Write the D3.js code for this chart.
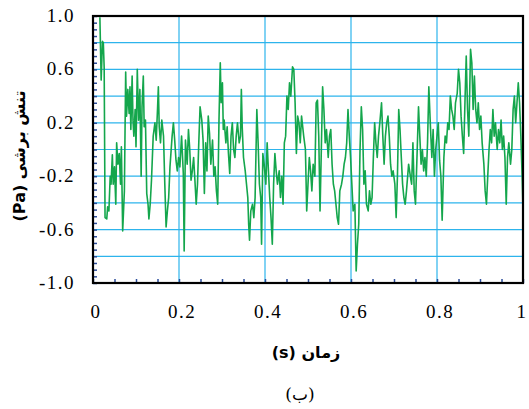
<!DOCTYPE html>
<html>
<head>
<meta charset="utf-8">
<script src="https://cdn.jsdelivr.net/npm/d3@7"></script>
<style>
	body { margin: 0; background: #fff; }
	svg { display: block; }
	.num { font-family: "Liberation Serif", "Times New Roman", "DejaVu Serif", serif; font-size: 19px; letter-spacing: 1.5px; }
</style>
</head>
<body>
<div id="chart"></div>
<script>
// shear stress signal (t in s, value in Pa)
var time = [
	0.016, 0.019, 0.022, 0.024, 0.026, 0.028, 0.032, 0.034, 0.037, 0.040,
	0.042, 0.045, 0.047, 0.050, 0.053, 0.055, 0.058, 0.061, 0.064, 0.066,
	0.069, 0.073, 0.076, 0.078, 0.081, 0.084, 0.086, 0.088, 0.091, 0.093,
	0.095, 0.098, 0.100, 0.103, 0.106, 0.109, 0.112, 0.114, 0.117, 0.119,
	0.122, 0.125, 0.128, 0.130, 0.133, 0.136, 0.140, 0.144, 0.147, 0.150,
	0.152, 0.154, 0.157, 0.160, 0.164, 0.167, 0.170, 0.173, 0.176, 0.179,
	0.184, 0.187, 0.190, 0.193, 0.196, 0.199, 0.202, 0.206, 0.210, 0.212,
	0.215, 0.219, 0.222, 0.225, 0.228, 0.231, 0.234, 0.237, 0.240, 0.243,
	0.246,
	0.249, 0.253, 0.256, 0.259, 0.262, 0.265, 0.268, 0.271, 0.274, 0.278,
	0.281, 0.284, 0.287, 0.290, 0.293, 0.296, 0.298, 0.301, 0.303, 0.305,
	0.309, 0.312, 0.315, 0.318, 0.321, 0.324, 0.327, 0.330, 0.333, 0.336,
	0.340, 0.343, 0.345, 0.347, 0.350, 0.354, 0.357, 0.360, 0.362, 0.364,
	0.367, 0.371, 0.374, 0.377, 0.381, 0.384, 0.387, 0.390, 0.392, 0.395,
	0.398, 0.402, 0.405, 0.408, 0.411, 0.414, 0.417, 0.420, 0.423, 0.426,
	0.429, 0.433, 0.436, 0.439, 0.442, 0.445, 0.448, 0.451, 0.454, 0.457,
	0.460, 0.464, 0.467, 0.470, 0.473, 0.476, 0.479, 0.482, 0.485, 0.490,
	0.494, 0.497, 0.500, 0.503, 0.506, 0.509, 0.512, 0.516, 0.519, 0.522,
	0.525, 0.528, 0.531, 0.534, 0.537, 0.540, 0.543, 0.547, 0.550, 0.553,
	0.556, 0.559, 0.562, 0.565, 0.568, 0.571, 0.574, 0.578, 0.581, 0.584,
	0.587, 0.590, 0.593, 0.596, 0.599, 0.602, 0.605, 0.609, 0.612, 0.615,
	0.618, 0.621, 0.624, 0.627, 0.630, 0.633, 0.636, 0.640, 0.643, 0.646,
	0.649, 0.652, 0.655, 0.658, 0.661, 0.664, 0.667, 0.671, 0.674, 0.677,
	0.680, 0.683, 0.686, 0.689, 0.692, 0.695, 0.698, 0.702, 0.705, 0.708,
	0.711, 0.714, 0.717, 0.720, 0.723, 0.726, 0.729, 0.734,
	0.738, 0.741, 0.744, 0.747, 0.750, 0.754, 0.757, 0.760, 0.763, 0.766,
	0.769, 0.772, 0.775, 0.778, 0.781, 0.785, 0.788, 0.791, 0.794, 0.797,
	0.800, 0.803, 0.806, 0.809, 0.812, 0.816, 0.819, 0.822, 0.825, 0.828,
	0.831, 0.834, 0.837, 0.840, 0.843, 0.847, 0.850, 0.853, 0.856, 0.859,
	0.862, 0.865, 0.868, 0.871, 0.874, 0.878, 0.881, 0.884, 0.887, 0.890,
	0.893, 0.896, 0.899, 0.902, 0.905, 0.909, 0.912, 0.915, 0.918, 0.921,
	0.924, 0.927, 0.930, 0.933, 0.936, 0.940, 0.943, 0.946, 0.949, 0.952,
	0.955, 0.958, 0.961, 0.964, 0.967, 0.971, 0.974, 0.977, 0.980, 0.983,
	0.986, 0.989, 0.992, 0.995, 0.998, 1.000
];
var stress = [
	0.99, 0.52, 0.81, 0.80, 0.61, -0.51, -0.52, -0.43, -0.46, -0.20,
	-0.26, -0.04, -0.26, -0.13, -0.41, 0.05, -0.11, -0.03, -0.26, 0.02,
	-0.61, -0.31, 0.58, 0.25, 0.45, 0.27, 0.47, 0.15, 0.55, 0.22,
	0.10, 0.30, 0.02, 0.60, 0.22, 0.45, -0.20, 0.32, 0.55, 0.17,
	0.22, -0.33, -0.41, -0.52, -0.41, -0.23, 0.10, 0.20, 0.07, 0.30,
	0.47, 0.17, 0.05, 0.22, 0.10, -0.26, -0.58, -0.46, -0.36, -0.13,
	0.10, 0.20, 0.07, -0.08, -0.16, -0.06, -0.13, 0.10, -0.18, -0.76,
	0.07, -0.11, 0.15, 0.00, -0.23, -0.16, -0.06, -0.23, -0.41, -0.26,
	0.05,
	0.32, 0.22, 0.07, -0.33, 0.05, -0.16, 0.25, 0.12, -0.11, 0.07,
	-0.20, -0.13, -0.31, -0.41, 0.22, 0.65, 0.35, 0.50, 0.15, 0.22,
	0.05, 0.17, -0.03, -0.18, 0.10, 0.20, 0.00, -0.06, 0.10, 0.20,
	0.05, 0.10, 0.45, 0.17, -0.06, -0.16, -0.26, -0.36, -0.56, -0.68,
	-0.46, -0.41, -0.51, -0.36, 0.30, 0.05, -0.26, -0.36, -0.71, -0.03,
	-0.11, -0.26, 0.05, -0.16, -0.36, -0.51, -0.71, -0.26, -0.03, -0.16,
	-0.26, -0.16, -0.36, -0.20, -0.41, 0.05, 0.10, 0.40, 0.30, 0.50,
	0.40, 0.62, 0.60, 0.35, -0.03, 0.25, 0.20, 0.05, 0.25, 0.10,
	0.00, -0.46, -0.26, -0.06, -0.16, -0.31, -0.11, -0.20, 0.35, 0.37,
	0.10, -0.46, 0.00, 0.47, 0.30, 0.05, 0.15, -0.06, 0.10, 0.15,
	-0.11, -0.26, -0.31, -0.41, -0.51, -0.56, -0.31, -0.26, -0.20, -0.11,
	-0.06, 0.05, 0.30, 0.10, -0.06, -0.26, -0.46, -0.41, -0.91, -0.71,
	-0.56, 0.00, 0.32, 0.15, -0.26, -0.16, -0.41, -0.46, -0.31, -0.41,
	-0.36, -0.06, 0.20, 0.05, -0.06, 0.10, 0.20, 0.35, 0.10, -0.11,
	0.10, 0.20, 0.25, 0.10, -0.11, -0.20, -0.16, -0.26, -0.51, -0.20,
	0.30, 0.15, -0.06, -0.26, -0.36, -0.41, -0.31, -0.11,
	-0.20, -0.26, 0.05, -0.31, -0.41, 0.00, 0.32, 0.10, -0.11, 0.00,
	-0.16, -0.06, -0.20, 0.05, 0.47, 0.15, -0.06, 0.15, -0.20, 0.00,
	0.10, 0.20, -0.08, -0.20, -0.53, -0.06, 0.10, 0.05, 0.20, 0.15,
	0.40, 0.30, 0.25, 0.15, 0.35, 0.42, 0.60, 0.50, 0.25, 0.10,
	-0.03, 0.35, 0.70, 0.30, 0.10, 0.75, 0.65, 0.30, 0.55, 0.30,
	0.20, 0.35, 0.15, 0.25, 0.05, -0.11, -0.31, -0.41, -0.20, 0.00,
	0.15, 0.05, 0.30, 0.10, 0.20, 0.00, 0.15, 0.05, 0.22, 0.00,
	0.10, -0.06, -0.41, -0.06, 0.05, -0.11, 0.00, 0.30, 0.40, 0.20,
	0.35, 0.50, 0.35, 0.10, -0.20, -0.46
];

// axis ticks
var xLabels = [0, 0.2, 0.4, 0.6, 0.8, 1];
var yLabels = [1.0, 0.6, 0.2, -0.2, -0.6, -1.0];
var xGrid = [0.2, 0.4, 0.6, 0.8];
var yGrid = [-0.8, -0.6, -0.4, -0.2, 0, 0.2, 0.4, 0.6, 0.8];

var width = 529,
	height = 409;

var x = d3.scaleLinear().domain([0, 1]).range([93, 523]);
var y = d3.scaleLinear().domain([-1, 1]).range([283, 16]);

var svg = d3.select("#chart").append("svg")
	.attr("width", width)
	.attr("height", height);

svg.append("clipPath").attr("id", "plot")
	.append("rect")
	.attr("x", x(0)).attr("y", y(1))
	.attr("width", x(1) - x(0)).attr("height", y(-1) - y(1));

// grid
svg.append("g").selectAll("line").data(yGrid).enter().append("line")
	.attr("x1", x(0)).attr("x2", x(1))
	.attr("y1", function (d) { return y(d); })
	.attr("y2", function (d) { return y(d); })
	.attr("stroke", "#2db4ec").attr("stroke-width", 1.2);

svg.append("g").selectAll("line").data(xGrid).enter().append("line")
	.attr("y1", y(-1)).attr("y2", y(1))
	.attr("x1", function (d) { return x(d); })
	.attr("x2", function (d) { return x(d); })
	.attr("stroke", "#2db4ec").attr("stroke-width", 1.2);

// small inner ticks
var leftAxis = d3.axisRight(y).ticks(40).tickSize(4).tickFormat("");
var gl = svg.append("g").attr("transform", "translate(" + x(0) + ",0)").call(leftAxis);
gl.select(".domain").remove();
gl.selectAll("line").attr("stroke", "#2b4c9b").attr("stroke-width", 1.5);

var bottomAxis = d3.axisTop(x).ticks(25).tickSize(4).tickFormat("");
var gb = svg.append("g").attr("transform", "translate(0," + y(-1) + ")").call(bottomAxis);
gb.select(".domain").remove();
gb.selectAll("line").attr("stroke", "#2b4c9b").attr("stroke-width", 1.5);

// signal
var line = d3.line()
	.x(function (d, i) { return x(time[i]); })
	.y(function (d) { return y(d); });

svg.append("path")
	.datum(stress)
	.attr("clip-path", "url(#plot)")
	.attr("d", line)
	.attr("fill", "none")
	.attr("stroke", "#14a64c")
	.attr("stroke-width", 1.6)
	.attr("stroke-linejoin", "round");

// frame
svg.append("rect")
	.attr("x", x(0)).attr("y", y(1))
	.attr("width", x(1) - x(0)).attr("height", y(-1) - y(1))
	.attr("fill", "none").attr("stroke", "#000").attr("stroke-width", 2.2);

// tick labels
svg.append("g").selectAll("text").data(yLabels).enter().append("text")
	.attr("class", "num")
	.attr("x", 75)
	.attr("y", function (d) { return y(d) + 6; })
	.attr("text-anchor", "end")
	.text(function (d) { return d.toFixed(1); });

svg.append("g").selectAll("text").data(xLabels).enter().append("text")
	.attr("class", "num")
	.attr("x", function (d) { return d === 1 ? 522 : x(d) + 3; })
	.attr("y", 318)
	.attr("text-anchor", "middle")
	.text(function (d) { return String(d); });

// titles
svg.append("text")
	.attr("x", 306).attr("y", 358)
	.attr("text-anchor", "middle")
	.attr("direction", "rtl")
	.style("font-family", "'DejaVu Sans', sans-serif")
	.style("font-size", "16px")
	.style("font-weight", "bold")
	.text("زمان (s)");

svg.append("text")
	.attr("transform", "translate(25,156) rotate(-90)")
	.attr("text-anchor", "middle")
	.attr("direction", "rtl")
	.style("font-family", "'DejaVu Sans', sans-serif")
	.style("font-size", "16px")
	.style("font-weight", "bold")
	.text("تنش برشی (Pa)");

svg.append("text")
	.attr("x", 300).attr("y", 400)
	.attr("text-anchor", "middle")
	.attr("direction", "rtl")
	.style("font-family", "'DejaVu Serif', serif")
	.style("font-size", "17px")
	.text("(ب)");
</script>
</body>
</html>
